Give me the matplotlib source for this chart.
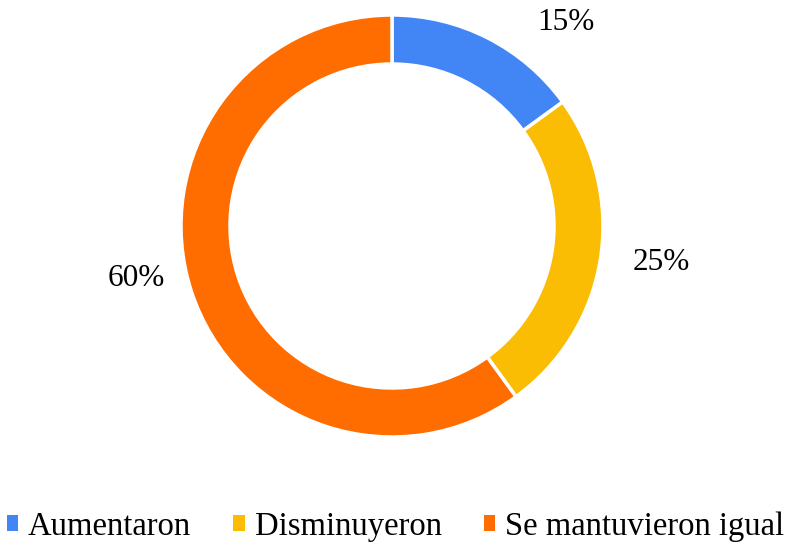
import matplotlib.pyplot as plt
from matplotlib.patches import Patch

plt.rcParams['font.family'] = ['Liberation Serif', 'DejaVu Serif']

# data
categorias = ['Aumentaron', 'Disminuyeron', 'Se mantuvieron igual']
valores = [15, 25, 60]
colores = ['#4285F4', '#FBBC04', '#FF6D01']
etiquetas = ['15%', '25%', '60%']

fig = plt.figure(figsize=(7.88, 5.46), dpi=100)
ax = fig.add_axes([0, 0, 1, 1])

ax.pie(valores, colors=colores, startangle=90, counterclock=False,
       center=(392, 320), radius=211, frame=True,
       wedgeprops=dict(width=49, edgecolor='white', linewidth=2.5))
ax.set_xlim(0, 788)
ax.set_ylim(0, 546)
ax.set_aspect('equal')
ax.axis('off')

# label placement (pixels, y up)
pos = [(566, 523), (661, 283), (136, 268)]
for (x, y), t in zip(pos, etiquetas):
    ax.text(x, y, t, fontsize=22.5, ha='center', va='center')

handles = [Patch(facecolor=c, edgecolor='none') for c in colores]
fig.legend(handles, categorias, loc='lower center', ncol=3, frameon=False,
           fontsize=23.5, bbox_to_anchor=(0.502, -0.04), handlelength=0.34,
           handleheight=0.34, handletextpad=0.31, columnspacing=1.3,
           borderpad=0.3)

fig.savefig('out.png', dpi=100)
